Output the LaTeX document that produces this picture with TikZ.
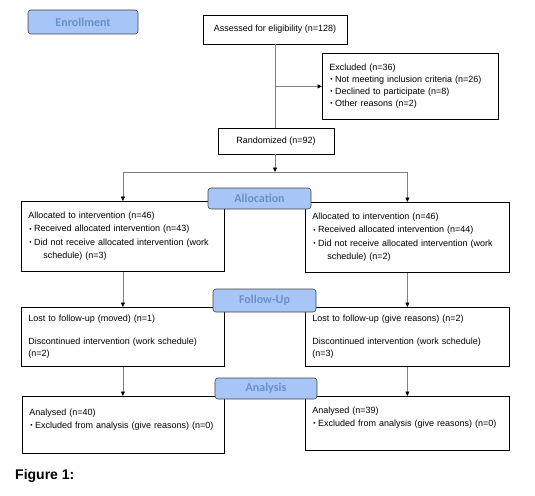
\documentclass[tikz,border=0pt]{standalone}
\usepackage{fontspec}
\setmainfont{Liberation Sans}
\newfontfamily\stagefont{Carlito}
\usetikzlibrary{arrows.meta}
\definecolor{stagefill}{HTML}{A8C5F7}
\definecolor{stagetext}{HTML}{6A90C8}
\definecolor{linkgrey}{HTML}{808080}
\newcommand{\itm}{\hspace*{1pt}\raisebox{0.9pt}{\fontsize{6.5}{6.5}\selectfont\textbullet}\hspace{2.5pt}}
\tikzset{
  box/.style={draw, line width=0.8pt, font=\fontsize{9}{13}\selectfont, inner xsep=7pt, inner ysep=3pt},
  infobox/.style={box, anchor=north west, text width=#1, align=left},
  stage/.style={draw=black!75, fill=stagefill, rounded corners=3pt, line width=0.6pt,
    text=stagetext, font=\stagefont\bfseries\fontsize{12}{14}\selectfont, inner sep=0pt},
  link/.style={draw=linkgrey, line width=0.7pt},
  arr/.style={link, -{Triangle[length=4.5pt,width=4pt,color=black]}}
}
\begin{document}
\begin{tikzpicture}[x=1pt,y=-1pt]
\useasboundingbox (0,0) rectangle (535,495);

\node[box, minimum width=144, minimum height=29] (assessed) at (275,29.5)
{Assessed for eligibility (n=128)};
\node[infobox=162, minimum height=66, font=\fontsize{9}{12}\selectfont] (excluded) at (322,53)
{Excluded (n=36)\\
\itm Not meeting inclusion criteria (n=26)\\
\itm Declined to participate (n=8)\\
\itm Other reasons (n=2)};
\node[box, minimum width=116, minimum height=26] (random) at (276,141)
{Randomized (n=92)};

\node[infobox=189, minimum height=70, font=\fontsize{9}{13.5}\selectfont] (allocL) at (21,201)
{Allocated to intervention (n=46)\\
\itm Received allocated intervention (n=43)\\
\itm Did not receive allocated intervention (work\\
\hspace*{15pt}schedule) (n=3)};
\node[infobox=190, minimum height=70, font=\fontsize{9}{13.5}\selectfont] (allocR) at (305,202)
{Allocated to intervention (n=46)\\
\itm Received allocated intervention (n=44)\\
\itm Did not receive allocated intervention (work\\
\hspace*{15pt}schedule) (n=2)};

\node[infobox=189, minimum height=59, font=\fontsize{9}{11.5}\selectfont] (fuL) at (21,307)
{Lost to follow-up (moved) (n=1)\\[11.5pt]
Discontinued intervention (work schedule)\\
(n=2)};
\node[infobox=190, minimum height=59, font=\fontsize{9}{11.5}\selectfont] (fuR) at (305,307)
{Lost to follow-up (give reasons) (n=2)\\[11.5pt]
Discontinued intervention (work schedule)\\
(n=3)};

\node[infobox=188, minimum height=57] (anaL) at (22,396)
{Analysed (n=40)\\
\itm Excluded from analysis (give reasons) (n=0)\\
\mbox{}};
\node[infobox=190, minimum height=54] (anaR) at (305,396)
{Analysed (n=39)\\
\itm Excluded from analysis (give reasons) (n=0)\\
\mbox{}};

\node[stage, minimum width=110, minimum height=24] (enroll) at (83,22) {Enrollment};
\node[stage, minimum width=103, minimum height=21] (allocation) at (259.5,198.5) {Allocation};
\node[stage, minimum width=103, minimum height=23] (followup) at (264.5,300.5) {Follow-Up};
\node[stage, minimum width=102, minimum height=21] (analysis) at (266,388.5) {Analysis};

\node[anchor=west, font=\bfseries\fontsize{14}{16}\selectfont, inner sep=0pt] (caption) at (15,476)
{Figure 1:};

\coordinate (split) at (275,172);

\draw[link] (assessed.south) -- (assessed.south |- random.north);
\draw[arr] (assessed.south |- excluded.west) -- (excluded.west);
\draw[arr] (random.south -| split) -- (split);
\draw[link] (allocL.north |- split) -- (allocR.north |- split);
\draw[arr] (allocL.north |- split) -- (allocL.north);
\draw[arr] (allocR.north |- split) -- (allocR.north);
\draw[arr] (allocL) -- (fuL);
\draw[arr] (allocR) -- (fuR);
\draw[arr] (fuL.south) -- (fuL.south |- anaL.north);
\draw[arr] (fuR.south) -- (fuR.south |- anaR.north);
\end{tikzpicture}
\end{document}
